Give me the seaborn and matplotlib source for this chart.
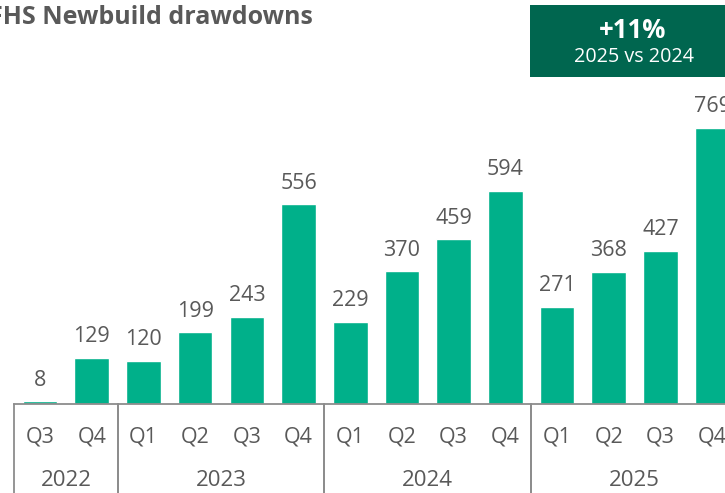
import matplotlib
matplotlib.use("Agg")
import matplotlib.pyplot as plt
import matplotlib.transforms as mtransforms
import seaborn as sns
import pandas as pd

# Quarterly drawdowns
years = ["2022", "2022", "2023", "2023", "2023", "2023",
         "2024", "2024", "2024", "2024", "2025", "2025", "2025", "2025"]
quarters = ["Q3", "Q4", "Q1", "Q2", "Q3", "Q4",
            "Q1", "Q2", "Q3", "Q4", "Q1", "Q2", "Q3", "Q4"]
drawdowns = [8, 129, 120, 199, 243, 556, 229, 370, 459, 594, 271, 368, 427, 769]
year_labels = ["2022", "2023", "2024", "2025"]

BAR_COLOR = "#00B08A"
BOX_COLOR = "#00664F"
TEXT_COLOR = "#595959"
LINE_COLOR = "#8C8C8C"

sns.set_theme(style="white")
plt.rcParams["font.family"] = ["Open Sans", "DejaVu Sans"]

df = pd.DataFrame({
    "period": [f"{y} {q}" for y, q in zip(years, quarters)],
    "value": drawdowns,
})

W, H = 725, 493
fig = plt.figure(figsize=(W / 100, H / 100), dpi=100)

# axes spans slightly past the right edge of the canvas
x0, slot = 14.2, 51.7
n = len(drawdowns)
base_y, top_y = 404, 44.7
ax = fig.add_axes([x0 / W, (H - base_y) / H, n * slot / W, (base_y - top_y) / H])

sns.barplot(data=df, x="period", y="value", color=BAR_COLOR, width=0.67,
            saturation=1, ax=ax)
ax.set_xlim(-0.5, n - 0.5)
ax.set_ylim(0, 1000)
ax.set_xticks([])
ax.set_yticks([])
ax.set_xlabel("")
ax.set_ylabel("")
for side in ["left", "right", "top"]:
    ax.spines[side].set_visible(False)
ax.spines["bottom"].set_color(LINE_COLOR)
ax.spines["bottom"].set_linewidth(1.3)

ax.bar_label(ax.containers[0], labels=[str(v) for v in drawdowns],
             padding=7.5, fontsize=15.5, color=TEXT_COLOR)

trans = mtransforms.blended_transform_factory(ax.transData, ax.transAxes)
axis_px = base_y - top_y
q_y = -(437 - base_y) / axis_px
yr_y = -(481 - base_y) / axis_px
for i, q in enumerate(quarters):
    ax.text(i, q_y, q, transform=trans, ha="center", va="center",
            fontsize=15.5, color=TEXT_COLOR)

# year groups with separators
groups = {}
for i, y in enumerate(years):
    groups.setdefault(y, []).append(i)
for y in year_labels:
    idx = groups[y]
    lo, hi = idx[0] - 0.5, idx[-1] + 0.5
    ax.text((lo + hi) / 2, yr_y, y, transform=trans, ha="center", va="center",
            fontsize=16, color=TEXT_COLOR)
    for xs in (lo, hi):
        ax.plot([xs, xs], [0, -0.3], transform=trans, color=LINE_COLOR,
                lw=1.3, clip_on=False)

fig.text(-11 / W, 1 - 18 / H, "FHS Newbuild drawdowns", ha="left", va="center",
         fontsize=18, fontweight="bold", color=TEXT_COLOR)

# highlight box
bx0, by0, bx1, by1 = 530, 5, 727, 77
fig.patches.append(plt.Rectangle((bx0 / W, 1 - by1 / H), (bx1 - bx0) / W,
                                 (by1 - by0) / H, transform=fig.transFigure,
                                 facecolor=BOX_COLOR, edgecolor="none"))
fig.text(633 / W, 1 - 31 / H, "+11%", ha="center", va="center",
         fontsize=18.5, fontweight="bold", color="white")
fig.text(634 / W, 1 - 57 / H, "2025 vs 2024", ha="center", va="center",
         fontsize=14.2, color="white")

fig.savefig("out.png", dpi=100)
